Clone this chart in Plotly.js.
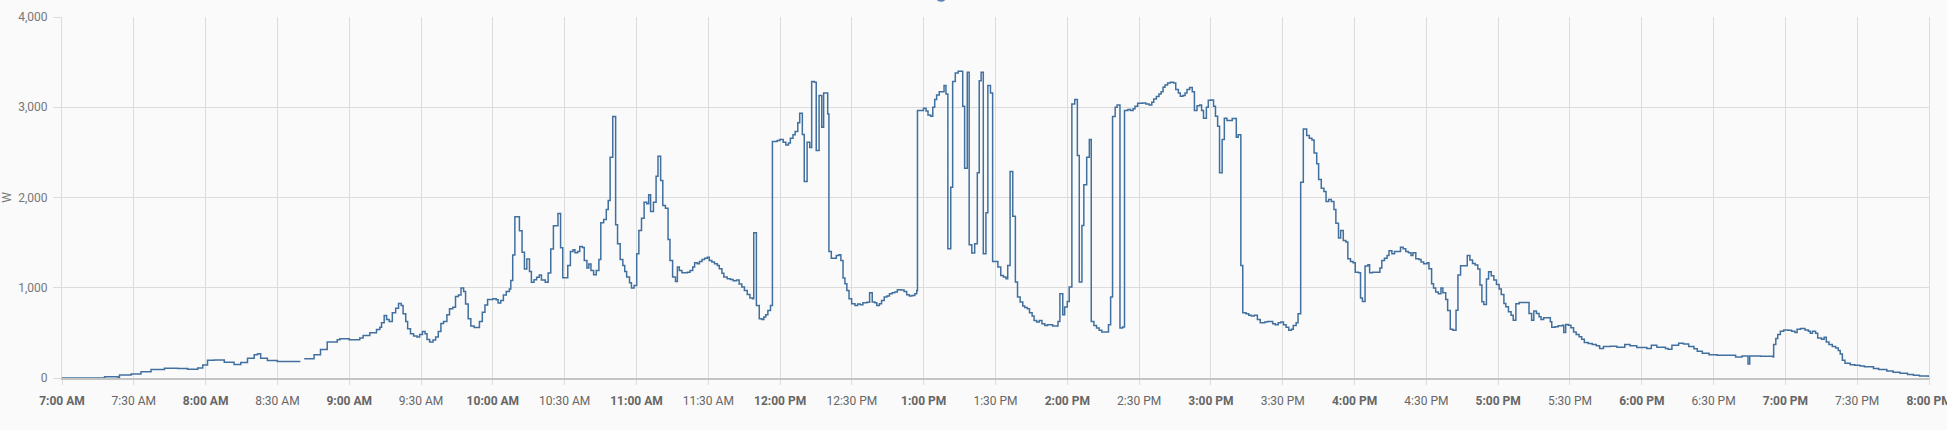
<!DOCTYPE html>
<html>
<head>
<meta charset="utf-8">
<script src="https://cdn.plot.ly/plotly-3.0.1.min.js"></script>
<style>
  html, body { margin: 0; padding: 0; background: #fafafa; }
  #chart { width: 1947px; height: 430px; }
</style>
</head>
<body>
<div id="chart"></div>
<script>
// Minutes after 7:00 AM at which each reading starts (step chart)
const minutes = [
  0, 17.8, 23.3, 24, 28.9, 33, 37.2, 42.8, 48.3, 52.5, 56.7, 58.8, 60.8, 63.6, 67.8, 71.9, 74.7, 77.5, 80.3, 81.7,
  83, 85.8, 90, 99.6, 99.8, 101.2, 105.3, 108, 110.8, 115, 116.1, 120, 124.4, 125.8, 128.6, 131.4, 132.8, 133.5, 134.6, 135.6,
  136.7, 138, 139.4, 140.6, 141.7, 142.5, 143.6, 144.4, 145.6, 146.9, 148.3, 149.4, 150.6, 151.7, 152.5, 153.6, 155, 156.1, 157.2, 158.3,
  159.4, 160.8, 161.9, 163.3, 164.4, 165.6, 166.7, 167.8, 168.6, 169.7, 170.8, 172.2, 174.4, 175.6, 176.7, 177.8, 180, 181.4, 182.2, 183.3,
  184.4, 185.6, 186.9, 187.5, 188.3, 189.2, 191.1, 192.2, 193.2, 194.2, 195.3, 196.1, 197.2, 198.3, 199.4, 200.3, 201.9, 203.1, 204.2, 205.3,
  207.2, 208.3, 209.2, 211.3, 212.4, 213.5, 214.3, 215.4, 216.3, 217.4, 218.2, 219.3, 220.1, 221, 222.1, 223.2, 224.3, 225.1, 226.3, 227.4,
  228.2, 229, 230.1, 231.3, 232.1, 233.2, 234.3, 235.1, 235.9, 237.1, 237.9, 239, 240.1, 241, 242.1, 243.2, 244.3, 245.1, 245.9, 247.1,
  248.2, 249, 250.1, 251, 252.1, 253.2, 254, 255.1, 256.3, 257.1, 257.9, 259, 261.3, 262.4, 263.5, 264.3, 265.4, 266.3, 267.4, 268.5,
  269.6, 270.4, 271.5, 272.6, 273.8, 274.6, 275.7, 276.5, 277.9, 279.3, 280.4, 281.8, 282.9, 284, 285.1, 286.3, 287.4, 288.5, 289, 290.1,
  291.3, 292.4, 293.2, 294, 294.9, 296, 296.8, 298.8, 299.9, 301.3, 302.4, 303.5, 304.3, 305.4, 306.3, 307.4, 308.2, 309.3, 310.1, 311.3,
  312.4, 313.2, 314.3, 315.1, 316.3, 317.4, 318.2, 319.9, 320.4, 321.4, 323.5, 324.6, 325.4, 326.3, 327.1, 327.9, 328.8, 329.9, 331.3, 332.4,
  333.5, 334.6, 336.3, 337.4, 338.5, 339.6, 340.4, 341.5, 342.4, 343.5, 344.6, 345.7, 346.8, 347.9, 349, 350.4, 351.8, 352.9, 354, 355.1,
  356.3, 357.1, 357.4, 359.9, 361, 361.8, 362.9, 363.8, 364.6, 365.4, 366.5, 368.5, 369.3, 370.1, 371.3, 372.1, 373.2, 374.4, 376.3, 377.1,
  378.2, 379, 380.1, 381.3, 382.4, 383.2, 384, 384.9, 386, 386.8, 387.9, 388.8, 391, 392.2, 393.3, 394.4, 395.1, 396.1, 397.2, 398.3,
  399.2, 400.3, 401.4, 402.2, 403.3, 404.2, 405.3, 406.1, 407.2, 408.3, 409.4, 410.6, 411.7, 413.9, 416.1, 416.9, 418.1, 418.9, 420, 420.8,
  421.9, 423.1, 424.2, 425, 426.1, 426.9, 428.1, 429.2, 430, 431.1, 432.2, 433.3, 434.4, 437.2, 438.1, 438.9, 440, 440.8, 442, 443.1,
  443.9, 445.3, 446.4, 447.5, 448.3, 449.4, 451.4, 452.8, 454.2, 455.3, 456.1, 457.2, 458.3, 459.2, 460, 460.8, 461.9, 463.1, 464.4, 465.3,
  466.4, 467.2, 468.3, 469.2, 470, 471.1, 472.2, 473.1, 474.2, 475.3, 476.1, 476.9, 478.1, 478.9, 480, 481.1, 481.9, 482.8, 483.6, 484.7,
  485.6, 486.7, 488.9, 490.6, 491.4, 492.5, 493.3, 494.7, 495.8, 496.9, 498.1, 499.4, 500.6, 502.5, 503.6, 505.8, 506.9, 508.1, 509.2, 510.3,
  511.4, 512.5, 513.6, 514.4, 515.6, 516.4, 517.5, 518.6, 520, 521.1, 522.2, 523.1, 524.2, 525, 526.1, 527.2, 528.1, 529.2, 530.3, 531.4,
  532.2, 533.3, 534.2, 535.3, 536.4, 537.2, 538.3, 539.4, 540.3, 541.7, 542.5, 543.3, 544.4, 545.6, 546.3, 547.5, 550.6, 551.4, 552.5, 553.6,
  554.4, 555.6, 556.7, 559.2, 560.3, 561.4, 562.5, 563.6, 564.4, 565.6, 566.9, 567.8, 568.9, 570.3, 571.1, 572.2, 573, 573.9, 575, 576.1,
  576.9, 578.1, 578.9, 580, 581.1, 582.4, 583.2, 584.3, 587.1, 588.2, 589.3, 590.4, 591.5, 592.4, 593.2, 594, 595.1, 596, 597.1, 598.2,
  599.3, 600.4, 601.3, 602.4, 603.2, 604.3, 605.4, 606.3, 607.4, 608.8, 612.9, 614, 614.9, 616, 617.1, 617.9, 619, 621.8, 622.4, 623.8,
  625.1, 626.8, 627.4, 628.2, 629.3, 630.4, 631.5, 632.6, 633.8, 634.9, 636, 637.6, 639.3, 641, 642.4, 644, 646.8, 649.6, 652.9, 655.1,
  657.9, 662.1, 664, 666.3, 669.9, 671, 672.6, 675.4, 677.4, 679.6, 681.8, 683.2, 685.3, 688.1, 691.5, 695, 699.2, 701.9, 704.4, 705.1,
  709.6, 714.9, 715.1, 716, 716.8, 717.9, 719.3, 721, 722.6, 724, 724.9, 726.3, 728.2, 729.6, 730.4, 731.3, 732.6, 733.5, 735.1, 736.2,
  737.1, 738.2, 739.6, 741, 742.1, 742.9, 743.8, 744.9, 747.1, 749, 751.2, 753, 756.8, 759, 762.4, 765, 767.9, 771, 773.5, 776, 779.7
];

// Solar power in watts (null = missing reading)
const watts = [
  0, 15, 0, 33, 45, 70, 93, 108, 104, 97, 112, 145, 197, 200, 175, 149, 171, 219, 257, 268,
  219, 193, 182, 182, null, 212, 257, 316, 400, 424, 435, 424, 442, 471, 501, 538, 563, 611, 692, 648,
  626, 722, 773, 825, 803, 711, 626, 545, 490, 464, 453, 482, 516, 490, 427, 398, 420, 453, 516, 604,
  626, 700, 766, 784, 902, 921, 998, 958, 821, 656, 575, 560, 626, 729, 810, 869, 877, 866, 832, 858,
  921, 958, 987, 1079, 1363, 1786, 1632, 1392, 1208, 1318, 1179, 1061, 1090, 1116, 1142, 1086, 1061, 1164, 1429, 1687,
  1823, 1444, 1110, 1247, 1402, 1421, 1387, 1402, 1458, 1446, 1303, 1218, 1262, 1192, 1144, 1192, 1314, 1720, 1756, 1867,
  1967, 2446, 2897, 1697, 1487, 1314, 1247, 1181, 1118, 1055, 996, 1026, 1376, 1635, 1771, 1948, 1930, 2030, 1845, 1948,
  2236, 2458, 2188, 1911, 1882, 1535, 1303, 1118, 1070, 1229, 1192, 1166, 1173, 1192, 1229, 1277, 1266, 1292, 1314, 1328,
  1339, 1303, 1284, 1266, 1247, 1210, 1162, 1118, 1100, 1092, 1077, 1085, 1041, 1007, 970, 926, 886, 878, 1609, 804,
  657, 649, 675, 701, 749, 804, 2620, 2631, 2642, 2613, 2583, 2605, 2657, 2694, 2731, 2827, 2934, 2697, 2177, 2613,
  2553, 3284, 3277, 2520, 3129, 2779, 3159, 2926, 1402, 1328, 1358, 1365, 1303, 1107, 1044, 970, 878, 823, 804, 819,
  812, 834, 838, 945, 841, 834, 804, 823, 860, 897, 908, 934, 945, 952, 978, 974, 959, 923, 908, 915,
  934, 970, 2963, 2989, 2959, 2915, 2900, 3000, 3085, 3137, 3173, 3240, 3148, 1432, 2114, 3284, 3380, 3398, 3011, 2325,
  3387, 1476, 1384, 1487, 2273, 3295, 3387, 1376, 1830, 3240, 3159, 1292, 1229, 1137, 1118, 1100, 1247, 2288, 1793, 1063,
  897, 841, 797, 782, 768, 723, 686, 638, 620, 638, 601, 583, 590, 576, 627, 934, 701, 786, 849, 1007,
  3037, 3085, 2465, 1063, 1690, 2140, 2446, 2642, 627, 583, 554, 528, 509, 590, 897, 2897, 3000, 3026, 554, 565,
  2963, 2974, 2963, 2982, 3011, 3044, 3048, 3037, 3026, 3055, 3092, 3118, 3148, 3173, 3221, 3247, 3269, 3277, 3269, 3196,
  3159, 3122, 3129, 3159, 3196, 3218, 3173, 2963, 3018, 3026, 2963, 2878, 3000, 3077, 3081, 3011, 2900, 2790, 2273, 2642,
  2878, 2852, 2875, 2668, 2694, 1247, 723, 712, 694, 686, 694, 649, 613, 620, 627, 601, 590, 613, 620, 590,
  561, 528, 539, 583, 613, 712, 2170, 2760, 2686, 2657, 2638, 2494, 2373, 2199, 2103, 2066, 1956, 1978, 1956, 1867,
  1716, 1550, 1635, 1524, 1506, 1321, 1292, 1277, 1173, 1166, 886, 849, 1240, 1255, 1166, 1173, 1218, 1303, 1328, 1358,
  1410, 1376, 1402, 1450, 1432, 1402, 1387, 1358, 1387, 1321, 1314, 1284, 1266, 1277, 1210, 1044, 996, 952, 934, 996,
  945, 871, 749, 539, 528, 750, 1141, 1244, 1356, 1307, 1270, 1252, 1207, 1030, 845, 815, 1096, 1178, 1133, 1085,
  1037, 985, 926, 826, 789, 733, 696, 641, 822, 837, 715, 641, 741, 715, 678, 648, 667, 622, 563, 567,
  578, 585, 504, 593, 585, 556, 511, 482, 456, 430, 393, 382, 370, 356, 326, 348, 352, 341, 370, 356,
  337, 326, 363, 341, 326, 319, 363, 385, 378, 348, 324, 296, 274, 259, 252, 252, 233, 244, 156, 244,
  241, 233, 370, 437, 482, 519, 533, 530, 519, 504, 541, 548, 533, 519, 496, 519, 496, 444, 430, 452,
  400, 370, 348, 333, 304, 267, 196, 163, 148, 142, 133, 125, 104, 93, 78, 65, 52, 40, 30, 22, 11
];

// Axis ticks every 30 minutes from 7:00 AM to 8:00 PM
const tickMinutes = [0, 30, 60, 90, 120, 150, 180, 210, 240, 270, 300, 330, 360, 390, 420, 450, 480, 510, 540, 570, 600, 630, 660, 690, 720, 750, 780];
const tickLabels = ['7:00 AM', '7:30 AM', '8:00 AM', '8:30 AM', '9:00 AM', '9:30 AM', '10:00 AM', '10:30 AM', '11:00 AM', '11:30 AM',
  '12:00 PM', '12:30 PM', '1:00 PM', '1:30 PM', '2:00 PM', '2:30 PM', '3:00 PM', '3:30 PM', '4:00 PM', '4:30 PM',
  '5:00 PM', '5:30 PM', '6:00 PM', '6:30 PM', '7:00 PM', '7:30 PM', '8:00 PM'];
const yTicks = [0, 1000, 2000, 3000, 4000];
const yLabel = 'W';

function toStamp(m) {
  const total = Math.round(m * 60) + 7 * 3600;
  const h = Math.floor(total / 3600), mi = Math.floor((total % 3600) / 60), s = total % 60;
  const p = n => String(n).padStart(2, '0');
  return '2023-06-01 ' + p(h) + ':' + p(mi) + ':' + p(s);
}

const xs = minutes.map(toStamp);
const tickvals = tickMinutes.map(toStamp);
const ticktext = tickLabels.map((t, i) => tickMinutes[i] % 60 === 0 ? '<b>' + t + '</b>' : t);

const grid = '#dcdcdc';
const font = 'Roboto, "Liberation Sans", Arial, sans-serif';

Plotly.newPlot('chart', [{
  type: 'scatter', mode: 'lines', x: xs, y: watts,
  line: { shape: 'hv', color: '#41709f', width: 1.5 },
  connectgaps: false, hoverinfo: 'skip', showlegend: false
}], {
  width: 1947, height: 430,
  margin: { l: 62, r: 18, t: 17, b: 52, pad: 0 },
  paper_bgcolor: '#fafafa', plot_bgcolor: '#fafafa',
  font: { family: font, size: 12, color: '#6b6b6b' },
  showlegend: false,
  xaxis: {
    type: 'date', range: [toStamp(0), toStamp(780)],
    tickmode: 'array', tickvals: tickvals, ticktext: ticktext,
    showgrid: true, gridcolor: grid, gridwidth: 1,
    ticks: 'outside', ticklen: 5, tickcolor: grid,
    showline: true, linecolor: '#c4c4c4', linewidth: 1.5,
    zeroline: false, ticklabelstandoff: 6, ticklabeloverflow: 'allow',
    tickfont: { family: font, size: 12, color: '#666' },
    fixedrange: true
  },
  yaxis: {
    range: [0, 4000], tickmode: 'array', tickvals: yTicks,
    tickformat: ',d',
    showgrid: true, gridcolor: grid, gridwidth: 1,
    ticks: 'outside', ticklen: 8, tickcolor: grid,
    showline: true, linecolor: grid, linewidth: 1, mirror: true,
    zeroline: false, ticklabelstandoff: 3,
    tickfont: { family: font, size: 12, color: '#777' },
    title: { text: yLabel, font: { family: font, size: 12, color: '#777' }, standoff: 6 },
    fixedrange: true
  },
  shapes: [{
    type: 'circle', xref: 'paper', yref: 'paper',
    x0: 0.4678, x1: 0.4739, y0: 1.0424, y1: 1.0716,
    fillcolor: '#5b86b5', line: { width: 0 }, layer: 'above'
  }]
}, { displayModeBar: false, staticPlot: true });
</script>
</body>
</html>
